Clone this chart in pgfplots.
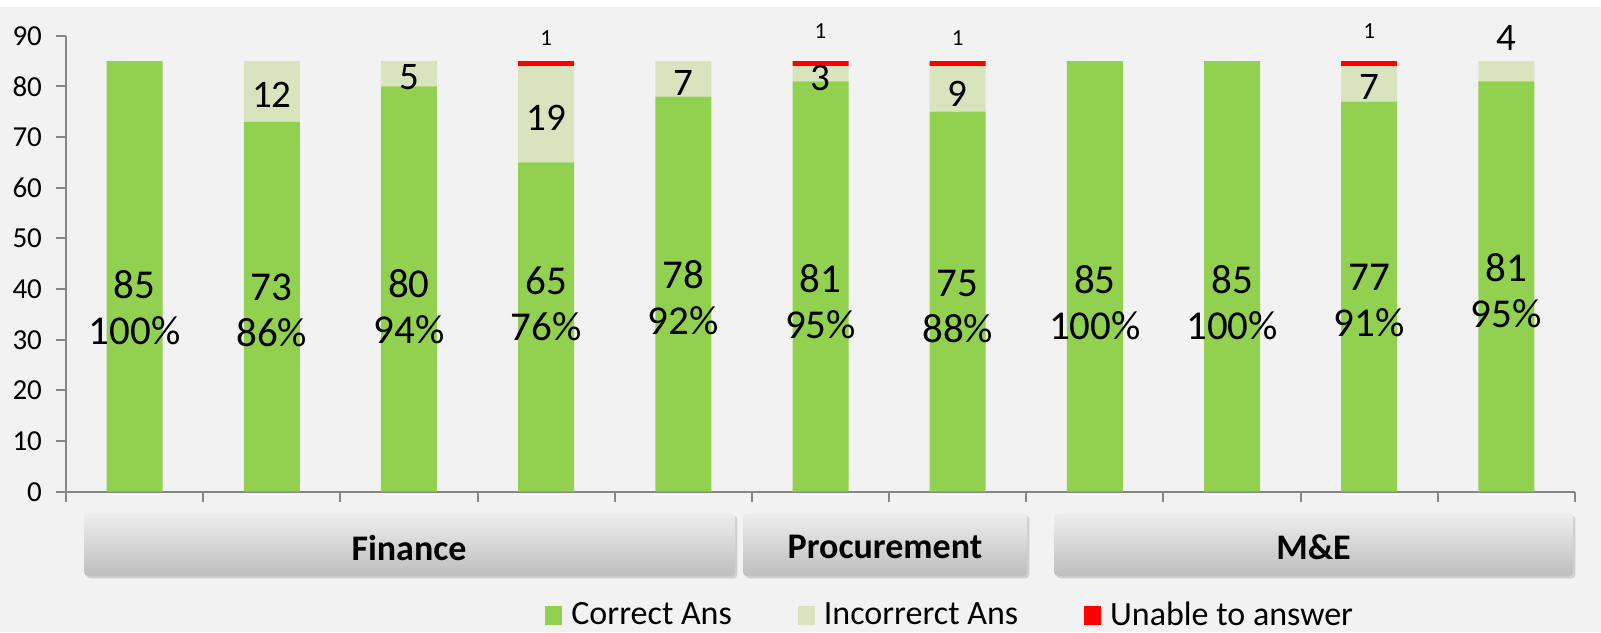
\documentclass[border=0pt]{standalone}
\usepackage{fontspec}
\setmainfont{Carlito}
\usepackage{pgfplots}
\usepackage{pgfplotstable}
\pgfplotsset{compat=1.18}
\usetikzlibrary{shadows}

\definecolor{cgreen}{HTML}{92D050}
\definecolor{clight}{HTML}{D7E4BD}
\definecolor{cred}{HTML}{FF0000}
\definecolor{bg}{HTML}{F2F2F2}
\definecolor{axgray}{HTML}{868686}
\definecolor{boxtop}{HTML}{EEEEEE}
\definecolor{boxbot}{HTML}{BEBEBE}

% bars: correct / incorrect / unable to answer
\pgfplotstableread{
x    correct incorrect unable
0.5  85      0         0
1.5  73      12        0
2.5  80      5         0
3.5  65      19        1
4.5  78      7         0
5.5  81      3         1
6.5  75      9         1
7.5  85      0         0
8.5  85      0         0
9.5  77      7         1
10.5 81      4         0
}\answers

% label positions (as placed in the original)
\pgfplotstableread{
x    val pct y
0.5  85  100 36.4
1.5  73  86  35.7
2.5  80  94  36.6
3.5  65  76  37.0
4.5  78  92  38.2
5.5  81  95  37.6
6.5  75  88  36.5
7.5  85  100 37.4
8.5  85  100 37.4
9.5  77  91  37.7
10.5 81  95  39.7
}\correctlab

\pgfplotstableread{
x    val y
1.5  12  78.3
2.5  5   81.9
3.5  19  73.7
4.5  7   80.7
5.5  3   81.6
6.5  9   78.6
9.5  7   79.9
10.5 4   89.5
}\incorrectlab

\pgfplotstableread{
x    val y
3.5  1   89.5
5.5  1   91.0
6.5  1   89.6
9.5  1   91.0
}\unablelab

\pgfplotsset{
  sq legend/.style={legend image code/.code={
    \fill[##1] (0pt,-4.75pt) rectangle (8.5pt,4.75pt);
    \path (11pt,0pt);}},
  common/.style={scale only axis, width=754.5pt, height=228pt,
    xmin=0, xmax=11, ymin=0, ymax=90,
    /pgf/number format/assume math mode=true},
}

\begin{document}
\begin{tikzpicture}
\useasboundingbox (-33pt,-70.15pt) rectangle (767.5pt,245.85pt);
\fill[white] (-33pt,-70.15pt) rectangle (767.5pt,245.85pt);
\fill[bg] (-33pt,-70.15pt) rectangle (767.5pt,242.35pt);

% group boxes under the x axis
\tikzset{grp/.style={rounded corners=2pt, top color=boxtop, bottom color=boxbot,
  drop shadow={shadow xshift=1.2pt, shadow yshift=-1.2pt, opacity=0.3}},
  grplab/.style={font=\bfseries\fontsize{18}{20}\selectfont}}
\path[grp] (9pt,-42.15pt) rectangle (334.5pt,-10.65pt);
\path[grp] (338.5pt,-42.15pt) rectangle (480.5pt,-10.65pt);
\path[grp] (494pt,-42.15pt) rectangle (753.5pt,-10.65pt);
\node[grplab] at (171.5pt,-28.15pt) {Finance};
\node[grplab] at (409.5pt,-27.7pt) {Procurement};
\node[grplab] at (623.75pt,-27.7pt) {M\&E};

\begin{axis}[common,
  ybar stacked, bar width=28pt,
  axis lines=left,
  axis line style={draw=axgray, line width=1pt, -},
  tick style={draw=axgray, line width=1pt},
  tick align=outside, major tick length=5pt,
  xtick={0,1,...,11}, xticklabels={},
  ytick={0,10,...,90},
  yticklabel style={font=\fontsize{14.5}{16}\selectfont, xshift=-3.5pt},
  legend columns=3,
  legend style={draw=none, fill=none, inner sep=0pt,
    at={(axis description cs:0.3174,-0.2704)}, anchor=west,
    font=\fontsize{17}{19}\selectfont,
    /tikz/every even column/.append style={column sep=31pt}},
]
\addplot[fill=cgreen, draw=none, sq legend] table[x=x, y=correct] {\answers};
\addplot[fill=clight, draw=none, sq legend] table[x=x, y=incorrect] {\answers};
\addplot[fill=cred, draw=none, sq legend] table[x=x, y=unable] {\answers};
\legend{Correct Ans, Incorrerct Ans, Unable to answer}
\end{axis}

% data labels
\begin{axis}[common, hide axis, clip=false]
\addplot[draw=none, mark=none, point meta=explicit,
  visualization depends on={\thisrow{pct} \as \pct},
  nodes near coords={\pgfmathprintnumber{\pgfplotspointmeta}\\\pgfmathprintnumber[fixed,precision=0]{\pct}\%},
  every node near coord/.append style={anchor=center, align=center,
    font=\fontsize{20.5}{23}\selectfont}]
  table[x=x, y=y, meta=val] {\correctlab};
\addplot[draw=none, mark=none, point meta=explicit,
  nodes near coords,
  every node near coord/.append style={anchor=center,
    font=\fontsize{19.5}{21}\selectfont}]
  table[x=x, y=y, meta=val] {\incorrectlab};
\addplot[draw=none, mark=none, point meta=explicit,
  nodes near coords,
  every node near coord/.append style={anchor=center,
    font=\fontsize{11.5}{13}\selectfont}]
  table[x=x, y=y, meta=val] {\unablelab};
\end{axis}
\end{tikzpicture}
\end{document}
